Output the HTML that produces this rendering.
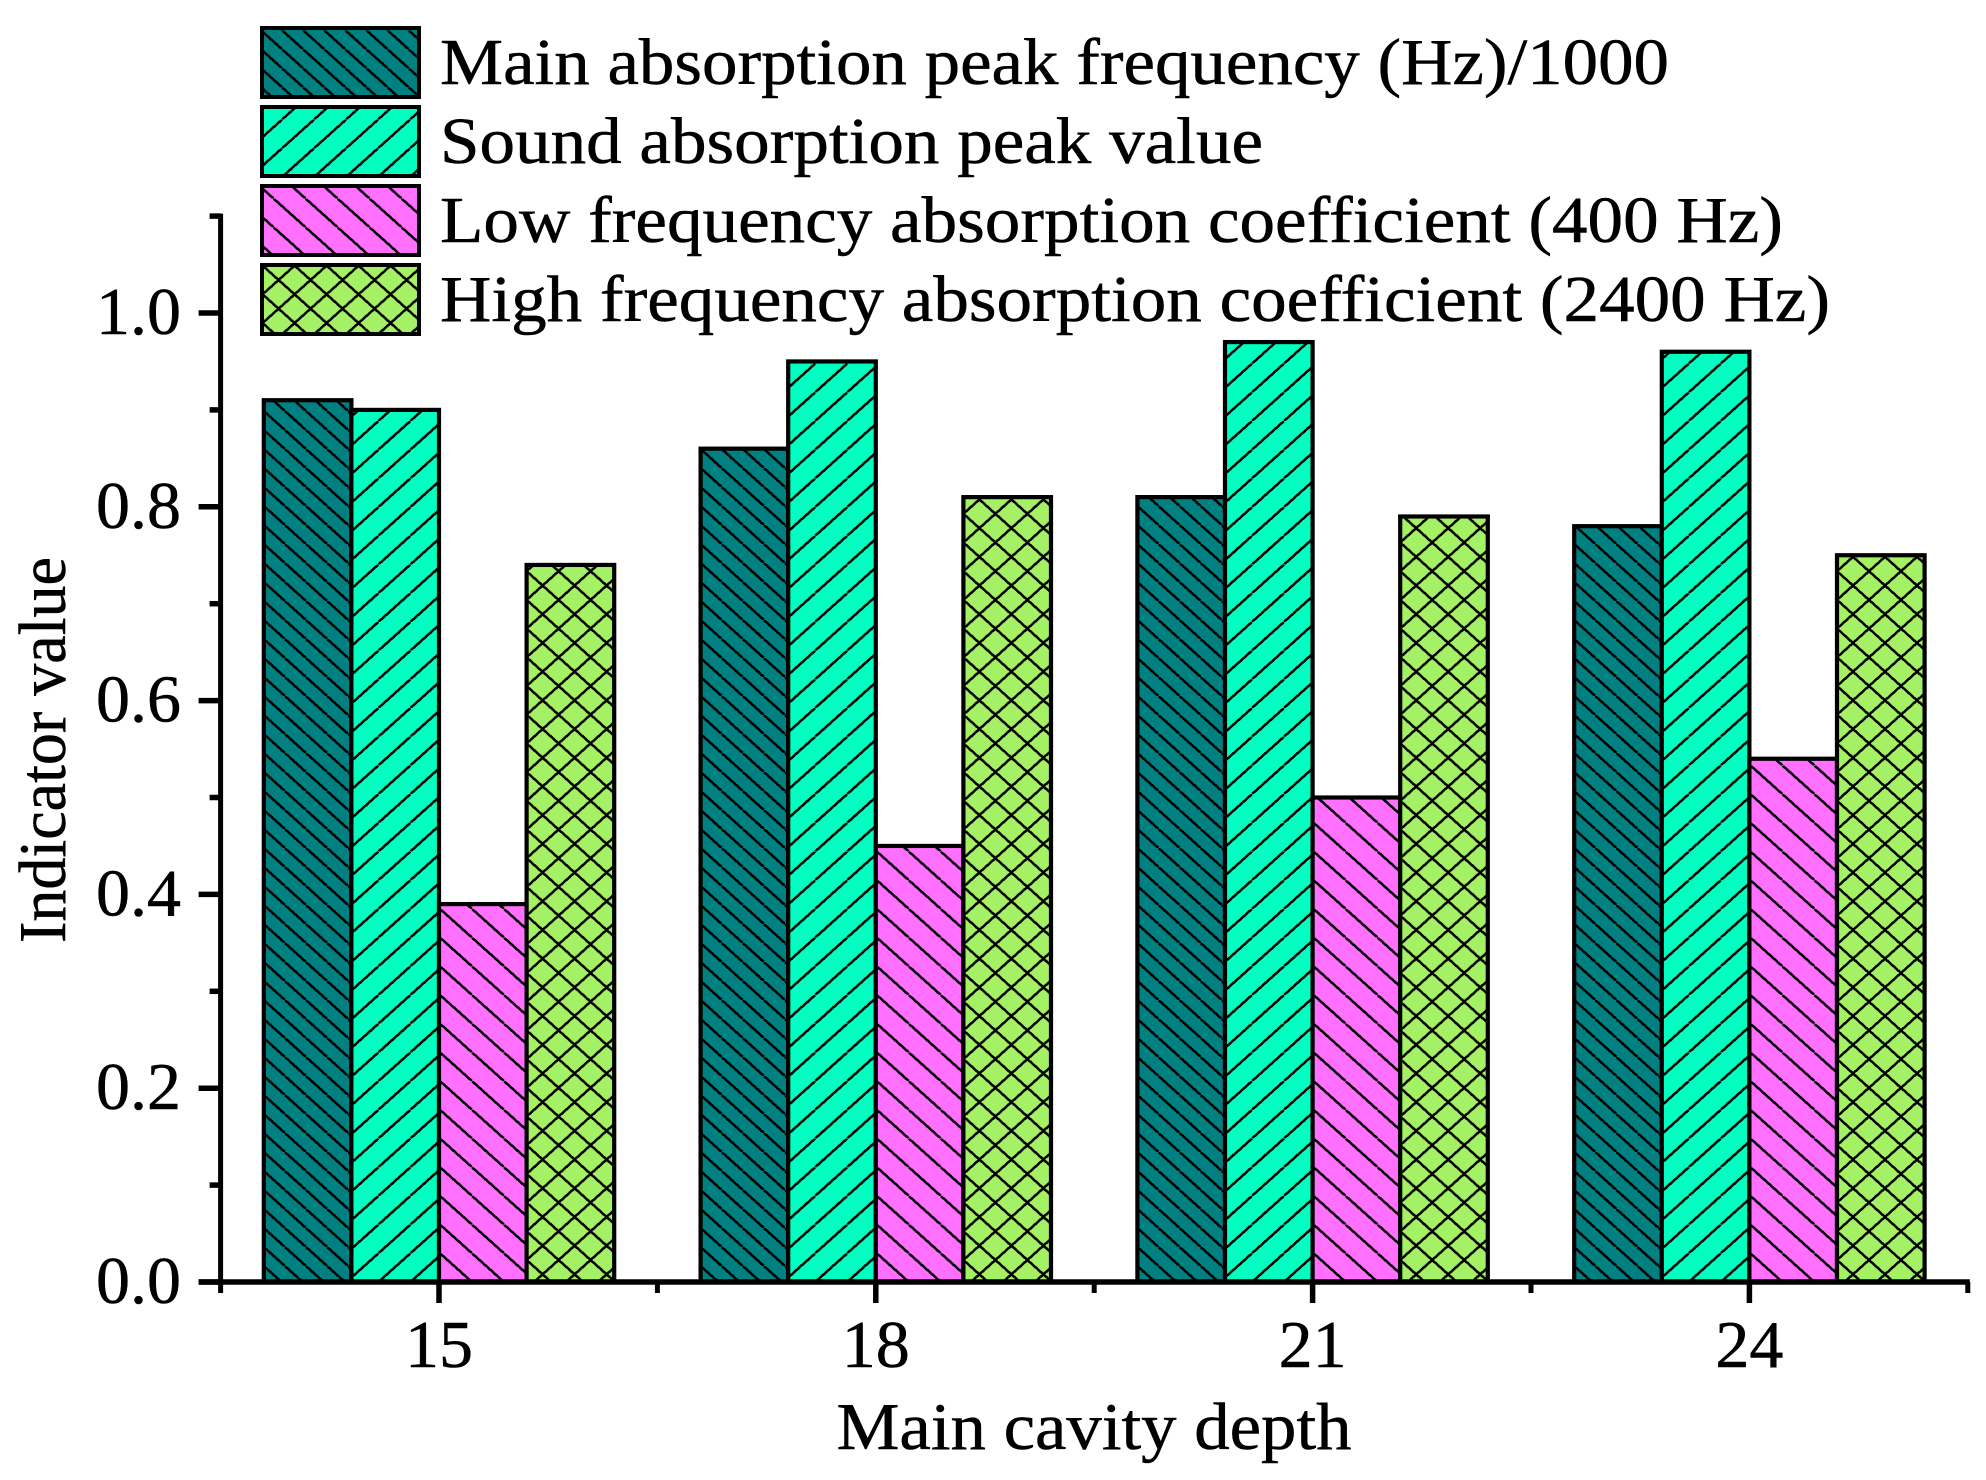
<!DOCTYPE html>
<html>
<head>
<meta charset="utf-8">
<title>Indicator value vs main cavity depth</title>
<style>
html,body{margin:0;padding:0;background:#fff;}
svg{display:block;}
text{font-family:"Liberation Serif",serif;fill:#000;stroke:#000;stroke-width:0.5px;}
pattern path{shape-rendering:crispEdges;}
</style>
</head>
<body>
<svg id="chart" xmlns="http://www.w3.org/2000/svg" width="1986" height="1480" viewBox="0 0 1986 1480">
<defs>
  <pattern id="p-teal" patternUnits="userSpaceOnUse" width="21.1" height="19" patternTransform="translate(0,-16)">
    <path d="M-21.1 0L0 19M0 0L21.1 19M21.1 0L42.2 19" stroke="#000" stroke-width="2.5" fill="none"/>
  </pattern>
  <pattern id="p-green" patternUnits="userSpaceOnUse" width="32" height="28.7" patternTransform="translate(27,0)">
    <path d="M-32 28.7L0 0M0 28.7L32 0M32 28.7L64 0" stroke="#000" stroke-width="2.5" fill="none"/>
  </pattern>
  <pattern id="p-magenta" patternUnits="userSpaceOnUse" width="32" height="28.7" patternTransform="translate(33,0)">
    <path d="M-32 0L0 28.7M0 0L32 28.7M32 0L64 28.7" stroke="#000" stroke-width="2.5" fill="none"/>
  </pattern>
  <pattern id="p-lime" patternUnits="userSpaceOnUse" width="32" height="28.7" patternTransform="translate(32,-22)">
    <path d="M-32 0L0 28.7M0 0L32 28.7M32 0L64 28.7M-32 28.7L0 0M0 28.7L32 0M32 28.7L64 0" stroke="#000" stroke-width="2.5" fill="none"/>
  </pattern>
  <pattern id="l-teal" patternUnits="userSpaceOnUse" width="21.1" height="19" patternTransform="translate(261,87.3)">
    <path d="M-21.1 0L0 19M0 0L21.1 19M21.1 0L42.2 19" stroke="#000" stroke-width="2.5" fill="none"/>
  </pattern>
  <pattern id="l-green" patternUnits="userSpaceOnUse" width="32" height="28.7" patternTransform="translate(282,177)">
    <path d="M-32 28.7L0 0M0 28.7L32 0M32 28.7L64 0" stroke="#000" stroke-width="2.5" fill="none"/>
  </pattern>
  <pattern id="l-magenta" patternUnits="userSpaceOnUse" width="32" height="28.7" patternTransform="translate(273.6,256)">
    <path d="M-32 0L0 28.7M0 0L32 28.7M32 0L64 28.7" stroke="#000" stroke-width="2.5" fill="none"/>
  </pattern>
  <pattern id="l-lime" patternUnits="userSpaceOnUse" width="32" height="28.7" patternTransform="translate(278.6,337.4)">
    <path d="M-32 0L0 28.7M0 0L32 28.7M32 0L64 28.7M-32 28.7L0 0M0 28.7L32 0M32 28.7L64 0" stroke="#000" stroke-width="2.5" fill="none"/>
  </pattern>
</defs>
<rect x="0" y="0" width="1986" height="1480" fill="#fff"/>
<g id="bars"></g>
<g id="axes"></g>

<g>
  <g>
    <rect x="262" y="28" width="157" height="69" fill="#008080" stroke="none"/>
    <rect x="262" y="28" width="157" height="69" fill="url(#l-teal)" stroke="#000" stroke-width="4"/>
    <text x="440" y="84" font-size="66" textLength="1229" lengthAdjust="spacingAndGlyphs">Main absorption peak frequency (Hz)/1000</text>
  </g>
  <g>
    <rect x="262" y="107" width="157" height="69" fill="#00FFC0" stroke="none"/>
    <rect x="262" y="107" width="157" height="69" fill="url(#l-green)" stroke="#000" stroke-width="4"/>
    <text x="440" y="163" font-size="66" textLength="823" lengthAdjust="spacingAndGlyphs">Sound absorption peak value</text>
  </g>
  <g>
    <rect x="262" y="186" width="157" height="69" fill="#FF70FF" stroke="none"/>
    <rect x="262" y="186" width="157" height="69" fill="url(#l-magenta)" stroke="#000" stroke-width="4"/>
    <text x="440" y="242" font-size="66" textLength="1343" lengthAdjust="spacingAndGlyphs">Low frequency absorption coefficient (400 Hz)</text>
  </g>
  <g>
    <rect x="262" y="265" width="157" height="69" fill="#A5F165" stroke="none"/>
    <rect x="262" y="265" width="157" height="69" fill="url(#l-lime)" stroke="#000" stroke-width="4"/>
    <text x="440" y="321" font-size="66" textLength="1390" lengthAdjust="spacingAndGlyphs">High frequency absorption coefficient (2400 Hz)</text>
  </g>
</g>

<text x="1094" y="1449" font-size="67" text-anchor="middle" textLength="515" lengthAdjust="spacingAndGlyphs">Main cavity depth</text>
<text transform="translate(65,750) rotate(-90)" x="0" y="0" font-size="67" text-anchor="middle" textLength="386" lengthAdjust="spacingAndGlyphs">Indicator value</text>
</svg>

<script>
const categories = [15, 18, 21, 24];
const mainPeakFrequency = [0.91, 0.86, 0.81, 0.78];
const soundPeakValue = [0.90, 0.95, 0.97, 0.96];
const lowFrequencyCoefficient = [0.39, 0.45, 0.50, 0.54];
const highFrequencyCoefficient = [0.74, 0.81, 0.79, 0.75];
const yMajorTicks = [0, 0.2, 0.4, 0.6, 0.8, 1.0];
const yMinorTicks = [0.1, 0.3, 0.5, 0.7, 0.9, 1.1];
const yTickLabels = ["0.0", "0.2", "0.4", "0.6", "0.8", "1.0"];
const xTickLabels = ["15", "18", "21", "24"];
const xMinorTicks = [13.5, 16.5, 19.5, 22.5, 25.5];

const NS = "http://www.w3.org/2000/svg";
const xScale = v => 439 + (v - 15) * 145.6;
const yScale = v => 1282 - v * 969;
const barWidth = 87.6;

const seriesList = [
  { key: "main-peak-frequency", values: mainPeakFrequency, color: "#008080", hatch: "url(#p-teal)" },
  { key: "sound-peak-value", values: soundPeakValue, color: "#00FFC0", hatch: "url(#p-green)" },
  { key: "low-frequency", values: lowFrequencyCoefficient, color: "#FF70FF", hatch: "url(#p-magenta)" },
  { key: "high-frequency", values: highFrequencyCoefficient, color: "#A5F165", hatch: "url(#p-lime)" }
];

const barsLayer = document.getElementById("bars");
const axesLayer = document.getElementById("axes");

seriesList.forEach((s, si) => {
  s.values.forEach((v, ci) => {
    const left = xScale(categories[ci]) + (si - 2) * barWidth;
    const h = yScale(0) - yScale(v);
    const g = document.createElementNS(NS, "g");
    g.setAttribute("transform", "translate(" + left + "," + yScale(0) + ")");
    
    
    const base = document.createElementNS(NS, "rect");
    base.setAttribute("x", 0);
    base.setAttribute("y", -h);
    base.setAttribute("width", barWidth);
    base.setAttribute("height", h);
    base.setAttribute("fill", s.color);
    
    
    g.appendChild(base);
    const hatch = document.createElementNS(NS, "rect");
    hatch.setAttribute("x", 0);
    hatch.setAttribute("y", -h);
    hatch.setAttribute("width", barWidth);
    hatch.setAttribute("height", h);
    hatch.setAttribute("fill", s.hatch);
    hatch.setAttribute("stroke", "#000");
    hatch.setAttribute("stroke-width", "4.2");
    
    
    g.appendChild(hatch);
    barsLayer.appendChild(g);
  });
});

function addLine(x1, y1, x2, y2, w, name) {
  const l = document.createElementNS(NS, "line");
  l.setAttribute("x1", x1);
  l.setAttribute("y1", y1);
  l.setAttribute("x2", x2);
  l.setAttribute("y2", y2);
  l.setAttribute("stroke", "#000");
  l.setAttribute("stroke-width", w);
  
  
  axesLayer.appendChild(l);
}
function addText(x, y, str, anchor, len, name) {
  const t = document.createElementNS(NS, "text");
  t.setAttribute("x", x);
  t.setAttribute("y", y);
  t.setAttribute("font-size", "67");
  t.setAttribute("text-anchor", anchor);
  t.setAttribute("textLength", len);
  t.setAttribute("lengthAdjust", "spacingAndGlyphs");
  
  
  t.textContent = str;
  axesLayer.appendChild(t);
}

const axisX = xScale(13.5);
const axisEnd = xScale(25.5);
addLine(axisX, yScale(1.1) - 2.5, axisX, yScale(0), 5, "y-axis-line");
addLine(axisX - 22, yScale(0), axisEnd + 2, yScale(0), 5.5, "x-axis-line");

yMajorTicks.forEach((v, i) => {
  addLine(axisX - 22, yScale(v), axisX, yScale(v), 5.5, "y-major-tick");
  addText(181, yScale(v) + 21, yTickLabels[i], "end", 85, "y-tick-label");
});
yMinorTicks.forEach(v => {
  addLine(axisX - 11, yScale(v), axisX, yScale(v), 5.5, "y-minor-tick");
});
categories.forEach((c, i) => {
  addLine(xScale(c), yScale(0), xScale(c), yScale(0) + 21, 5.5, "x-major-tick");
  addText(xScale(c), 1367, xTickLabels[i], "middle", 68, "x-tick-label");
});
xMinorTicks.forEach(c => {
  addLine(xScale(c), yScale(0), xScale(c), yScale(0) + 11, 5, "x-minor-tick");
});
</script>
</body>
</html>
